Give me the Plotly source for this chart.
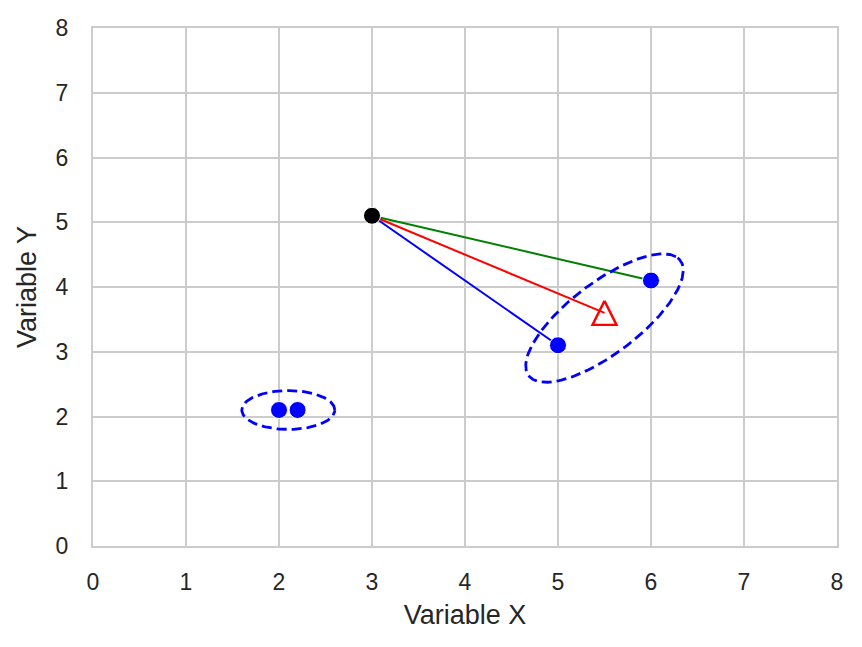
import numpy as np
import plotly.graph_objects as go

# reference point and the four blue points
ref_x = [3.0]
ref_y = [5.1]
pts_x = [2.0, 2.2, 5.0, 6.0]
pts_y = [2.1, 2.1, 3.1, 4.1]

# centroid of the right-hand pair (open triangle)
cen_x = [5.5]
cen_y = [3.6]

# segments drawn from the reference point: end point + colour
seg_x = [6.0, 5.5, 5.0]
seg_y = [4.1, 3.6, 3.1]
seg_colors = ['green', 'red', 'blue']

# dashed ellipses: centre x, centre y, semi-axis a, semi-axis b, angle (deg)
ellipses = [
    (2.1, 2.1, 0.5, 0.3, 0.0),
    (5.5, 3.52, 1.22, 0.46, 51.0),
]

TEXT = '#262626'
GRID = '#cccccc'
FONT = 'Liberation Sans, Arial, sans-serif'

# the page adds an 8px body margin, so the figure is shrunk to fit the window
W, H = 854, 639
ML, MR, MT, MB = 85, 25, 20, 101
X_RANGE = [0, 8]
Y_RANGE = [0, 8]


def ellipse_xy(cx, cy, a, b, angle, n=200):
    t = np.linspace(0, 2 * np.pi, n)
    th = np.deg2rad(angle)
    ex = a * np.cos(t)
    ey = b * np.sin(t)
    x = cx + ex * np.cos(th) - ey * np.sin(th)
    y = cy + ex * np.sin(th) + ey * np.cos(th)
    return x, y


def mpl_triangle(cx, cy, half_px=12):
    # matplotlib style '^' marker (as wide as it is tall), sized in pixels
    ux = (X_RANGE[1] - X_RANGE[0]) / (W - ML - MR)
    uy = (Y_RANGE[1] - Y_RANGE[0]) / (H - MT - MB)
    dx, dy = half_px * ux, half_px * uy
    return ([cx, cx - dx, cx + dx, cx], [cy + dy, cy - dy, cy - dy, cy + dy])


fig = go.Figure()

for x1, y1, col in zip(seg_x, seg_y, seg_colors):
    fig.add_trace(go.Scatter(
        x=[ref_x[0], x1], y=[ref_y[0], y1],
        mode='lines',
        line=dict(color=col, width=2),
        showlegend=False, hoverinfo='skip',
    ))

for cx, cy, a, b, ang in ellipses:
    ex, ey = ellipse_xy(cx, cy, a, b, ang)
    fig.add_trace(go.Scatter(
        x=ex, y=ey,
        mode='lines',
        line=dict(color='blue', width=2.8, dash='10px,5px'),
        showlegend=False, hoverinfo='skip',
    ))

fig.add_trace(go.Scatter(
    x=pts_x, y=pts_y,
    mode='markers',
    marker=dict(color='blue', size=17, line=dict(color='white', width=1)),
    showlegend=False,
))

fig.add_trace(go.Scatter(
    x=ref_x, y=ref_y,
    mode='markers',
    marker=dict(color='black', size=17, line=dict(color='white', width=1)),
    showlegend=False,
))

for cx, cy in zip(cen_x, cen_y):
    tx, ty = mpl_triangle(cx, cy)
    fig.add_trace(go.Scatter(
        x=tx, y=ty,
        mode='lines',
        line=dict(color='red', width=2.4),
        showlegend=False,
    ))

axis_common = dict(
    dtick=1,
    tick0=0,
    showgrid=True,
    gridcolor=GRID,
    gridwidth=2,
    zeroline=False,
    showline=True,
    linecolor=GRID,
    linewidth=2,
    mirror=True,
    ticks='outside',
    tickcolor='rgba(0,0,0,0)',
    tickfont=dict(size=23, color=TEXT, family=FONT),
)

fig.update_xaxes(**axis_common, range=X_RANGE, ticklen=14,
                 title=dict(text='Variable X', standoff=12,
                            font=dict(size=27, color=TEXT, family=FONT)))
fig.update_yaxes(**axis_common, range=Y_RANGE, ticklen=18,
                 title=dict(text='Variable Y', standoff=11,
                            font=dict(size=27, color=TEXT, family=FONT)))

fig.update_layout(
    width=W,
    height=H,
    margin=dict(l=ML, r=MR, t=MT, b=MB, autoexpand=False),
    paper_bgcolor='white',
    plot_bgcolor='white',
    font=dict(family=FONT, color=TEXT),
)

fig.write_html('out.html')
